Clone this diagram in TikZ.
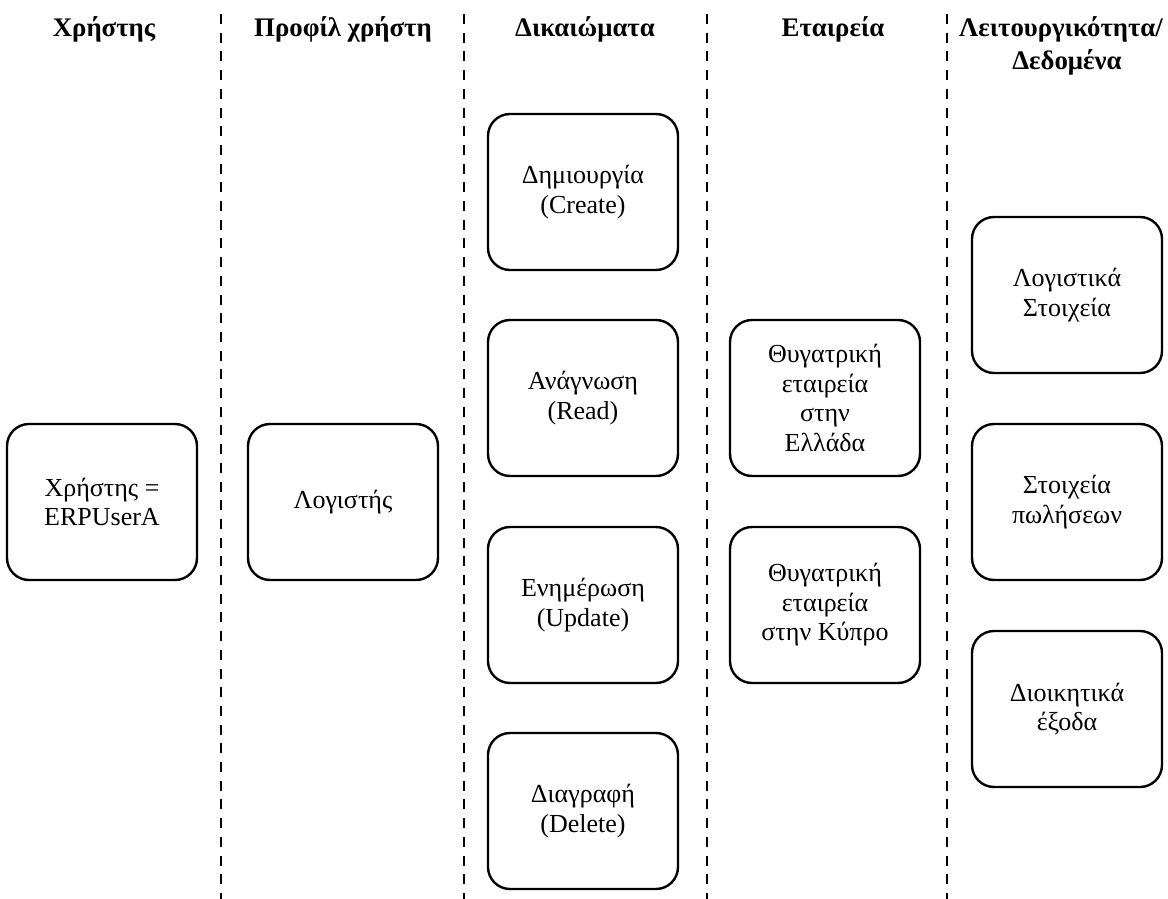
\documentclass[tikz,border=0pt]{standalone}
\usepackage{fontspec}
\setmainfont{Liberation Serif}
\begin{document}
\begin{tikzpicture}[x=1pt,y=-1pt,
  card/.style={draw, line width=2.4pt, rounded corners=22pt,
    minimum width=190pt, minimum height=156pt, align=center,
    inner sep=4pt, font=\fontsize{26}{29.5}\selectfont},
  lane/.style={line width=2.6pt, dash pattern=on 10pt off 8.7pt},
  head/.style={align=center, inner sep=0pt,
    font=\fontsize{26.8}{33}\selectfont\bfseries}]
\useasboundingbox (0,0) rectangle (1168,899);

% lane separators
\foreach \x/\n in {221/a,464/b,707/c,947/d}{
  \coordinate (top\n) at (\x,14);
  \coordinate (bot\n) at (\x,899);
  \draw[lane] (top\n) -- (bot\n);
}

% column headings
\node[head, anchor=base] (h1) at (104,37) {Χρήστης};
\node[head, anchor=base] (h2) at (343,37) {Προφίλ χρήστη};
\node[head, anchor=base] (h3) at (585,37) {Δικαιώματα};
\node[head, anchor=base] (h4) at (833,37) {Εταιρεία};
\node[head, anchor=base] (h5) at (1061,37) {Λειτουργικότητα/};
\node[head, anchor=base] (h6) at (1067,70) {Δεδομένα};

% user and profile
\node[card] (user) at (102,502) {Χρήστης =\\ERPUserA};
\node[card] (prof) at (343,502) {Λογιστής};

% permissions
\node[card] (create) at (583,192) {Δημιουργία\\(Create)};
\node[card] (read)   at (583,398) {Ανάγνωση\\(Read)};
\node[card] (update) at (583,605) {Ενημέρωση\\(Update)};
\node[card] (delete) at (583,811) {Διαγραφή\\(Delete)};

% companies
\node[card] (gr) at (825,398) {Θυγατρική\\εταιρεία\\στην\\Ελλάδα};
\node[card] (cy) at (825,605) {Θυγατρική\\εταιρεία\\στην Κύπρο};

% data areas
\node[card] (acc)   at (1067,295) {Λογιστικά\\Στοιχεία};
\node[card] (sales) at (1067,502) {Στοιχεία\\πωλήσεων};
\node[card] (admin) at (1067,709) {Διοικητικά\\έξοδα};
\end{tikzpicture}
\end{document}
